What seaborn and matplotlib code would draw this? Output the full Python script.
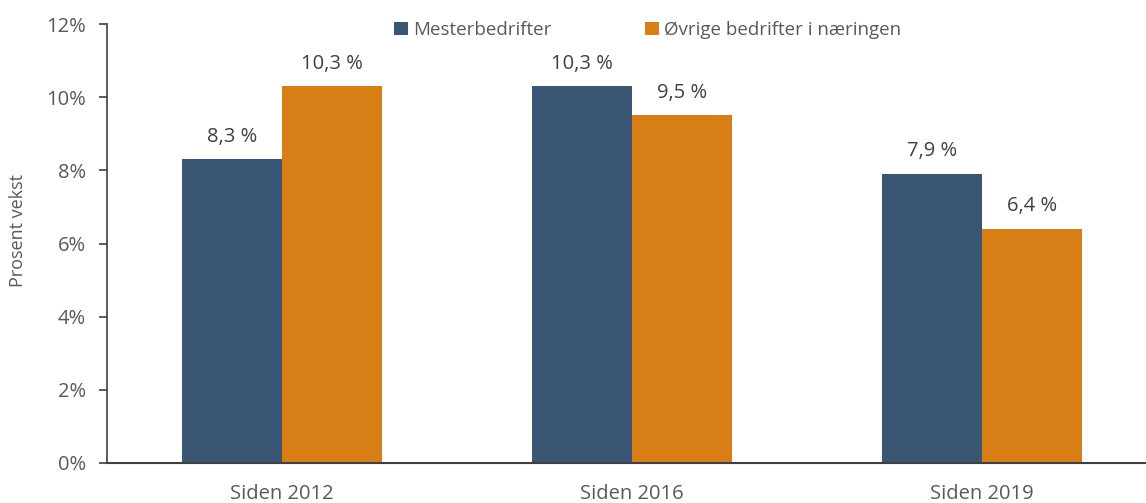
import matplotlib
matplotlib.use('Agg')
import matplotlib.pyplot as plt
import seaborn as sns
import pandas as pd
from matplotlib.ticker import FuncFormatter

# data
categories = ['Siden 2012', 'Siden 2016', 'Siden 2019']
series = ['Mesterbedrifter', 'Øvrige bedrifter i næringen']
mester = [8.3, 10.3, 7.9]
ovrige = [10.3, 9.5, 6.4]

df = pd.DataFrame({
    'periode': categories * 2,
    'gruppe': [series[0]] * 3 + [series[1]] * 3,
    'vekst': mester + ovrige,
})

sns.set_theme(style='white')
plt.rcParams['font.family'] = ['Open Sans', 'DejaVu Sans']
grey = '#595959'

fig = plt.figure(figsize=(11.46, 5.03), dpi=100)
ax = fig.add_axes([107 / 1146, 40 / 503, 1 - 107 / 1146, 439 / 503])

palette = {series[0]: '#3B5674', series[1]: '#D77E17'}
sns.barplot(data=df, x='periode', y='vekst', hue='gruppe', palette=palette,
            width=0.572, saturation=1, ax=ax, errorbar=None, linewidth=0)

for cont in ax.containers:
    ax.bar_label(cont, labels=[f"{v:.1f} %".replace('.', ',') for v in cont.datavalues],
                 padding=9, fontsize=14.5, color='#404040')

ax.set_ylim(0, 12)
ax.set_xlim(-0.5, 2.469)
ax.set_yticks(range(0, 13, 2))
ax.yaxis.set_major_formatter(FuncFormatter(lambda v, p: f"{v:.0f}%"))
ax.set_xlabel('')
ax.set_ylabel('Prosent vekst', fontsize=13, color=grey)
ax.yaxis.set_label_coords(-0.077, 0.53)

ax.tick_params(axis='y', which='major', left=True, length=6, width=1.2,
               color='#404040', labelsize=14.5, labelcolor=grey, pad=9)
ax.tick_params(axis='x', length=0, labelsize=14.5, labelcolor=grey, pad=15)

for s in ['top', 'right']:
    ax.spines[s].set_visible(False)
ax.spines['left'].set_color('#404040')
ax.spines['left'].set_linewidth(1.2)
ax.spines['bottom'].set_color('#404040')
ax.spines['bottom'].set_linewidth(1.5)

leg = ax.legend(loc='upper center', bbox_to_anchor=(0.52, 1.045), ncol=2, frameon=False,
                fontsize=13.5, handlelength=0.75, handleheight=0.75, handletextpad=0.25,
                columnspacing=5.0, labelcolor=grey)

fig.savefig('out.png', dpi=100)
